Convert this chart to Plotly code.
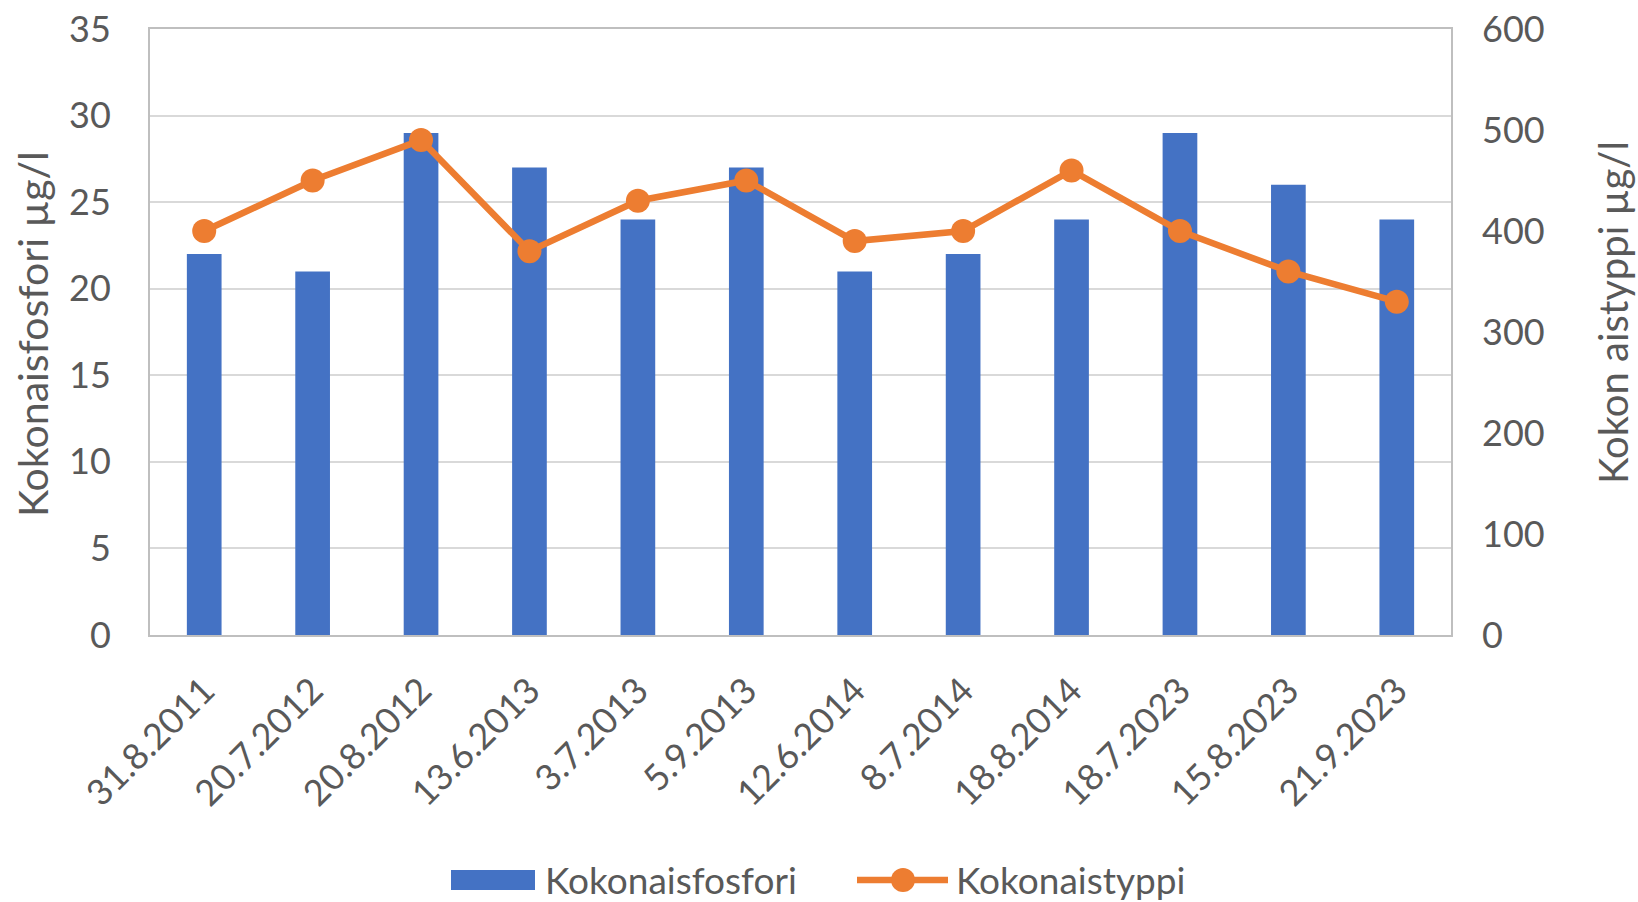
import plotly.graph_objects as go

dates = ["31.8.2011", "20.7.2012", "20.8.2012", "13.6.2013", "3.7.2013", "5.9.2013",
         "12.6.2014", "8.7.2014", "18.8.2014", "18.7.2023", "15.8.2023", "21.9.2023"]
fosfori = [22, 21, 29, 27, 24, 27, 21, 22, 24, 29, 26, 24]
typpi = [400, 450, 490, 380, 430, 450, 390, 400, 460, 400, 360, 330]
names = ["Kokonaisfosfori", "Kokonaistyppi"]
y_title = "Kokonaisfosfori µg/l"
y2_title = "Kokon aistyppi µg/l"

FONT = "Lato"
GRAY = "#595959"
BLUE = "#4472C4"
ORANGE = "#ED7D31"

# body margin is removed below, so the figure fills the 1638x902 window
W, H = 1638, 902
L, R, T, B = 150, 187, 29, 267
PW, PH = W - L - R, H - T - B


def px(x):
    return (x - L) / PW


def py(y):
    return (H - B - y) / PH


fig = go.Figure()
fig.add_trace(go.Bar(x=dates, y=fosfori, name=names[0], showlegend=False,
                     marker=dict(color=BLUE, line=dict(width=0))))
fig.add_trace(go.Scatter(x=dates, y=typpi, name=names[1], yaxis="y2", showlegend=False,
                         mode="lines+markers",
                         line=dict(color=ORANGE, width=6.5),
                         marker=dict(color=ORANGE, size=24)))

# manual legend (pixel layout)
ly = 880
shapes = [
    dict(type="rect", xref="paper", yref="paper", x0=px(451), x1=px(535),
         y0=py(ly + 10), y1=py(ly - 10), fillcolor=BLUE, line=dict(width=0)),
    dict(type="line", xref="paper", yref="paper", x0=px(857), x1=px(948),
         y0=py(ly), y1=py(ly), line=dict(color=ORANGE, width=6.5)),
    dict(type="circle", xref="paper", yref="paper", x0=px(903 - 12), x1=px(903 + 12),
         y0=py(ly + 12), y1=py(ly - 12), fillcolor=ORANGE, line=dict(width=0)),
]
annotations = [
    dict(text=names[0], xref="paper", yref="paper", x=px(543), y=py(ly - 1),
         xanchor="left", yanchor="middle", showarrow=False,
         font=dict(size=37, color=GRAY, family=FONT)),
    dict(text=names[1], xref="paper", yref="paper", x=px(954), y=py(ly - 1),
         xanchor="left", yanchor="middle", showarrow=False,
         font=dict(size=37, color=GRAY, family=FONT)),
    dict(text=y_title, xref="paper", yref="paper", x=px(33), y=py(334),
         xanchor="center", yanchor="middle", textangle=-90, showarrow=False,
         font=dict(size=41, color=GRAY, family=FONT)),
    dict(text=y2_title, xref="paper", yref="paper", x=px(1613), y=py(313),
         xanchor="center", yanchor="middle", textangle=-90, showarrow=False,
         font=dict(size=40, color=GRAY, family=FONT)),
]

fig.update_layout(
    width=W, height=H,
    margin=dict(l=L, r=R, t=T, b=B, autoexpand=False),
    paper_bgcolor="white", plot_bgcolor="white",
    font=dict(family=FONT, color=GRAY, size=36),
    bargap=0.68,
    showlegend=False,
    hovermode=False,
    shapes=shapes,
    annotations=annotations,
    xaxis=dict(type="category", range=[-0.5, len(dates) - 0.5], tickangle=-45,
               showgrid=False, automargin=False,
               showline=True, linecolor="#BFBFBF", linewidth=2, mirror=True,
               ticks="", ticklabelstandoff=18, ticklabeloverflow="allow",
               tickfont=dict(size=36, color=GRAY)),
    yaxis=dict(range=[0, 35], dtick=5, showgrid=True, gridcolor="#D9D9D9", gridwidth=2,
               showline=True, linecolor="#BFBFBF", linewidth=2, mirror=True,
               zeroline=False, ticks="", automargin=False, ticklabelstandoff=30,
               ticklabeloverflow="allow", tickfont=dict(size=36, color=GRAY)),
    yaxis2=dict(range=[0, 600], dtick=100, overlaying="y", side="right", showgrid=False,
                zeroline=False, ticks="", automargin=False, ticklabelstandoff=30,
                ticklabeloverflow="allow", tickfont=dict(size=36, color=GRAY)),
)

fig.write_html("out.html",
               config={"displayModeBar": False, "staticPlot": True},
               post_script="document.body.style.margin='0';document.body.style.overflow='hidden';")
